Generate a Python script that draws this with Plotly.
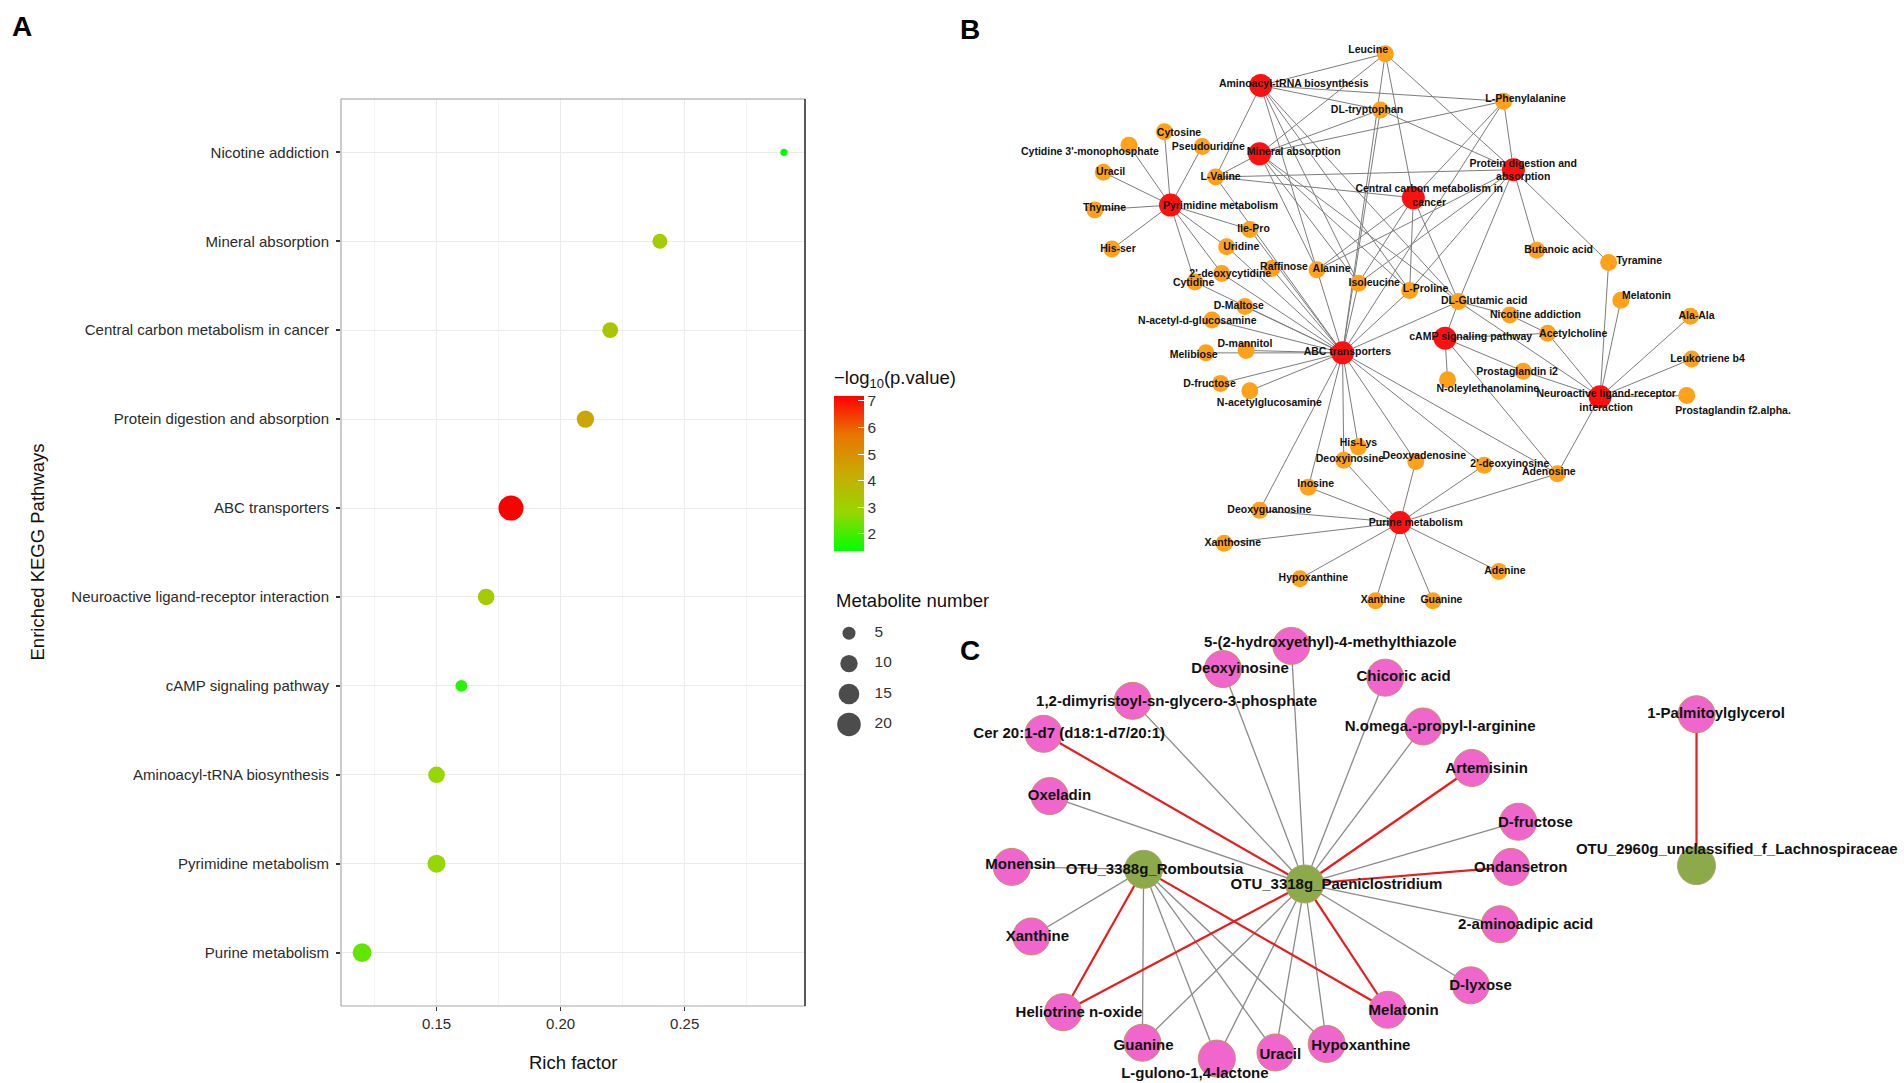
import numpy as np
import plotly.graph_objects as go

FIG_W, FIG_H = 1904, 1083
REF_W, REF_H = 1560.0, 887.0          # design grid used for the network layouts
FONT = "Liberation Sans"


def px(v):
    return v / REF_W


def py(v):
    return 1 - v / REF_H


# ---------------------------------------------------------------- Panel A data
pathways = ["Nicotine addiction", "Mineral absorption", "Central carbon metabolism in cancer",
            "Protein digestion and absorption", "ABC transporters",
            "Neuroactive ligand-receptor interaction", "cAMP signaling pathway",
            "Aminoacyl-tRNA biosynthesis", "Pyrimidine metabolism", "Purine metabolism"]
rich_factor = [0.29, 0.24, 0.22, 0.21, 0.18, 0.17, 0.16, 0.15, 0.15, 0.12]
neg_log10_p = [1.36, 3.15, 3.4, 4.4, 7.19, 3.2, 1.7, 2.8, 2.8, 2.3]
metabolite_number = [1, 7, 8, 10, 23, 9, 4, 9, 11, 12]
rich_ticks = [0.15, 0.20, 0.25]
rich_tick_text = ["0.15", "0.20", "0.25"]
p_ticks = [2, 3, 4, 5, 6, 7]
size_breaks = [5, 10, 15, 20]

# ---------------------------------------------------------------- Panel B data
b_pathways = ["Aminoacyl-tRNA biosynthesis", "Mineral absorption", "Protein digestion and absorption",
              "Central carbon metabolism in cancer", "Pyrimidine metabolism", "ABC transporters",
              "cAMP signaling pathway", "Neuroactive ligand-receptor interaction", "Purine metabolism"]
b_links = {
    "Aminoacyl-tRNA biosynthesis": ["Leucine", "L-Phenylalanine", "DL-tryptophan", "L-Valine", "Alanine",
                                    "Isoleucine", "L-Proline", "DL-Glutamic acid"],
    "Mineral absorption": ["Leucine", "L-Phenylalanine", "DL-tryptophan", "L-Valine", "Alanine",
                           "Isoleucine", "L-Proline", "DL-Glutamic acid"],
    "Protein digestion and absorption": ["Leucine", "L-Phenylalanine", "DL-tryptophan", "L-Valine", "Alanine",
                                         "Isoleucine", "L-Proline", "DL-Glutamic acid", "Butanoic acid",
                                         "Tyramine"],
    "Central carbon metabolism in cancer": ["Leucine", "L-Phenylalanine", "L-Valine", "Alanine",
                                            "Isoleucine", "L-Proline", "DL-Glutamic acid"],
    "Pyrimidine metabolism": ["Cytosine", "Cytidine 3'-monophosphate", "Uracil", "Thymine", "His-ser",
                              "Pseudouridine", "Uridine", "2'-deoxycytidine", "Cytidine", "Ile-Pro"],
    "ABC transporters": ["Leucine", "L-Phenylalanine", "DL-tryptophan", "L-Valine", "Ile-Pro", "Raffinose",
                         "Alanine", "Isoleucine", "L-Proline", "DL-Glutamic acid", "D-Maltose",
                         "N-acetyl-d-glucosamine", "D-mannitol", "Melibiose", "D-fructose",
                         "N-acetylglucosamine", "Uridine", "Cytidine", "2'-deoxycytidine", "His-Lys",
                         "Deoxyinosine", "Deoxyadenosine", "Inosine", "Deoxyguanosine", "2'-deoxyinosine",
                         "Adenosine"],
    "cAMP signaling pathway": ["DL-Glutamic acid", "Acetylcholine", "N-oleylethanolamine",
                               "Prostaglandin i2", "Adenosine"],
    "Neuroactive ligand-receptor interaction": ["Tyramine", "Melatonin", "Ala-Ala", "Leukotriene b4",
                                                "Prostaglandin f2.alpha.", "Acetylcholine",
                                                "Prostaglandin i2", "DL-Glutamic acid", "Adenosine"],
    "Purine metabolism": ["Adenosine", "Adenine", "Guanine", "Xanthine", "Hypoxanthine", "Xanthosine",
                          "Inosine", "Deoxyguanosine", "Deoxyinosine", "Deoxyadenosine", "2'-deoxyinosine"],
    "Nicotine addiction": ["DL-Glutamic acid", "Acetylcholine"],
}
b_label_text = {
    "Protein digestion and absorption": "Protein digestion and<br>absorption",
    "Central carbon metabolism in cancer": "Central carbon metabolism in<br>cancer",
    "Neuroactive ligand-receptor interaction": "Neuroactive ligand-receptor<br>interaction",
}
# node layout (node x, node y, label x, label y) in design units
b_layout = {
    "Aminoacyl-tRNA biosynthesis": (1033, 70, 1060, 69),
    "Mineral absorption": (1032, 126, 1060, 125),
    "Protein digestion and absorption": (1240, 139, 1248, 140),
    "Central carbon metabolism in cancer": (1158, 162, 1171, 161),
    "Pyrimidine metabolism": (959, 168, 1000, 169),
    "ABC transporters": (1100, 289, 1104, 289),
    "cAMP signaling pathway": (1184, 277, 1205, 276),
    "Neuroactive ligand-receptor interaction": (1311, 325, 1316, 329),
    "Purine metabolism": (1147, 428, 1160, 429),
    "Leucine": (1135, 44, 1121, 41),
    "L-Phenylalanine": (1232, 83, 1250, 81),
    "DL-tryptophan": (1131, 90, 1120, 90),
    "Cytosine": (954, 108, 966, 109),
    "Pseudouridine": (985, 120, 990, 121),
    "Cytidine 3'-monophosphate": (925, 119, 893, 125),
    "Uracil": (904, 141, 910, 141),
    "L-Valine": (996, 145, 1000, 145),
    "Thymine": (897, 172, 905, 171),
    "His-ser": (911, 204, 916, 204),
    "Ile-Pro": (1024, 188, 1027, 188),
    "Uridine": (1005, 202, 1017, 203),
    "2'-deoxycytidine": (1001, 224, 1008, 225),
    "Cytidine": (979, 231, 978, 232),
    "Raffinose": (1042, 220, 1052, 219),
    "Alanine": (1079, 221, 1091, 221),
    "Isoleucine": (1113, 232, 1126, 232),
    "L-Proline": (1155, 238, 1168, 237),
    "DL-Glutamic acid": (1195, 247, 1216, 247),
    "Nicotine addiction": (1237, 258, 1258, 258),
    "D-Maltose": (1020, 251, 1015, 251),
    "N-acetyl-d-glucosamine": (993, 262, 981, 263),
    "D-mannitol": (1021, 287, 1020, 282),
    "Melibiose": (988, 289, 978, 291),
    "Butanoic acid": (1259, 205, 1277, 205),
    "Tyramine": (1318, 215, 1343, 214),
    "Melatonin": (1328, 246, 1349, 243),
    "Ala-Ala": (1385, 259, 1390, 259),
    "Acetylcholine": (1268, 273, 1289, 274),
    "Leukotriene b4": (1386, 294, 1399, 294),
    "Prostaglandin f2.alpha.": (1382, 324, 1420, 337),
    "Prostaglandin i2": (1248, 304, 1243, 305),
    "N-oleylethanolamine": (1186, 311, 1219, 319),
    "D-fructose": (1000, 314, 991, 315),
    "N-acetylglucosamine": (1024, 320, 1040, 330),
    "His-Lys": (1113, 366, 1113, 363),
    "Deoxyinosine": (1101, 377, 1106, 376),
    "Deoxyadenosine": (1160, 378, 1167, 374),
    "2'-deoxyinosine": (1216, 381, 1237, 380),
    "Adenosine": (1276, 388, 1269, 387),
    "Inosine": (1072, 399, 1078, 397),
    "Deoxyguanosine": (1032, 418, 1040, 418),
    "Xanthosine": (1003, 445, 1010, 445),
    "Hypoxanthine": (1065, 474, 1076, 474),
    "Xanthine": (1127, 492, 1133, 492),
    "Guanine": (1174, 492, 1181, 492),
    "Adenine": (1228, 468, 1233, 468),
}

# ---------------------------------------------------------------- Panel C data
c_otus = ["OTU_3388g_Romboutsia", "OTU_3318g_Paeniclostridium", "OTU_2960g_unclassified_f_Lachnospiraceae"]
c_positive = [  # red links
    ("OTU_3318g_Paeniclostridium", "Cer 20:1-d7 (d18:1-d7/20:1)"),
    ("OTU_3318g_Paeniclostridium", "Artemisinin"),
    ("OTU_3318g_Paeniclostridium", "Ondansetron"),
    ("OTU_3318g_Paeniclostridium", "Melatonin"),
    ("OTU_3318g_Paeniclostridium", "Heliotrine n-oxide"),
    ("OTU_3388g_Romboutsia", "Heliotrine n-oxide"),
    ("OTU_3388g_Romboutsia", "Melatonin"),
    ("OTU_2960g_unclassified_f_Lachnospiraceae", "1-Palmitoylglycerol"),
]
c_negative = [  # grey links
    ("OTU_3318g_Paeniclostridium", "5-(2-hydroxyethyl)-4-methylthiazole"),
    ("OTU_3318g_Paeniclostridium", "Deoxyinosine"),
    ("OTU_3318g_Paeniclostridium", "Chicoric acid"),
    ("OTU_3318g_Paeniclostridium", "N.omega.-propyl-l-arginine"),
    ("OTU_3318g_Paeniclostridium", "D-fructose"),
    ("OTU_3318g_Paeniclostridium", "2-aminoadipic acid"),
    ("OTU_3318g_Paeniclostridium", "D-lyxose"),
    ("OTU_3318g_Paeniclostridium", "Hypoxanthine"),
    ("OTU_3318g_Paeniclostridium", "Uracil"),
    ("OTU_3318g_Paeniclostridium", "L-gulono-1,4-lactone"),
    ("OTU_3318g_Paeniclostridium", "Guanine"),
    ("OTU_3318g_Paeniclostridium", "Oxeladin"),
    ("OTU_3318g_Paeniclostridium", "1,2-dimyristoyl-sn-glycero-3-phosphate"),
    ("OTU_3388g_Romboutsia", "Monensin"),
    ("OTU_3388g_Romboutsia", "Xanthine"),
    ("OTU_3388g_Romboutsia", "Guanine"),
    ("OTU_3388g_Romboutsia", "L-gulono-1,4-lactone"),
    ("OTU_3388g_Romboutsia", "Uracil"),
    ("OTU_3388g_Romboutsia", "Hypoxanthine"),
]
c_layout = {
    "5-(2-hydroxyethyl)-4-methylthiazole": (1058, 529, 1090, 527),
    "Deoxyinosine": (1002, 548, 1016, 548),
    "Chicoric acid": (1135, 555, 1150, 555),
    "1,2-dimyristoyl-sn-glycero-3-phosphate": (928, 574, 964, 575),
    "N.omega.-propyl-l-arginine": (1166, 595, 1180, 596),
    "Cer 20:1-d7 (d18:1-d7/20:1)": (855, 601, 876, 601),
    "Artemisinin": (1206, 629, 1218, 630),
    "Oxeladin": (860, 652, 868, 652),
    "D-fructose": (1244, 673, 1258, 674),
    "Monensin": (829, 710, 836, 709),
    "Ondansetron": (1238, 710, 1246, 711),
    "OTU_3388g_Romboutsia": (937, 712, 946, 713),
    "OTU_3318g_Paeniclostridium": (1069, 724, 1095, 725),
    "OTU_2960g_unclassified_f_Lachnospiraceae": (1390, 709, 1423, 696),
    "1-Palmitoylglycerol": (1390, 585, 1406, 585),
    "Xanthine": (845, 767, 850, 768),
    "2-aminoadipic acid": (1229, 757, 1250, 758),
    "D-lyxose": (1205, 807, 1213, 808),
    "Heliotrine n-oxide": (871, 829, 884, 830),
    "Melatonin": (1137, 827, 1150, 828),
    "Hypoxanthine": (1087, 855, 1115, 857),
    "Guanine": (936, 854, 937, 857),
    "Uracil": (1045, 862, 1049, 864),
    "L-gulono-1,4-lactone": (997, 867, 979, 880),
}

# ---------------------------------------------------------------- styles
colorscale = [[0.0, "#00FF00"], [0.25, "#98D700"], [0.5, "#C8AB00"], [0.75, "#E87600"], [1.0, "#FF0000"]]


def dot_size(n):
    return 4.7 * np.sqrt(np.asarray(n, dtype=float)) + 2.5


fig = go.Figure()

# ---------------------------------------------------------------- Panel A
cb_top, cb_bottom = 367.0, 550.7       # colourbar block (title + bar), figure pixels
fig.add_trace(go.Scatter(
    x=rich_factor, y=pathways, mode="markers", xaxis="x", yaxis="y",
    marker=dict(size=dot_size(metabolite_number), color=neg_log10_p, colorscale=colorscale,
                cmin=min(neg_log10_p), cmax=max(neg_log10_p), line=dict(width=0), opacity=1,
                showscale=True,
                colorbar=dict(x=834 / FIG_W, xanchor="left", y=1 - cb_top / FIG_H, yanchor="top",
                              len=(cb_bottom - cb_top) / FIG_H, lenmode="fraction", thickness=30,
                              thicknessmode="pixels", outlinewidth=0, xpad=0, ypad=0, tickvals=p_ticks,
                              ticktext=[str(t) for t in p_ticks], ticks="inside", ticklen=6,
                              tickcolor="white", tickwidth=1.2,
                              tickfont=dict(family=FONT, size=15.5, color="#333333"),
                              title=dict(text="\u2212log<sub>10</sub>(p.value)", side="top",
                                         font=dict(family=FONT, size=18.5, color="#111111")))),
    showlegend=False, hoverinfo="skip"))

span = max(rich_factor) - min(rich_factor)
x_range = [min(rich_factor) - 0.05 * span, max(rich_factor) + 0.05 * span]
step = rich_ticks[1] - rich_ticks[0]
minor_vals = [rich_ticks[0] - step / 2] + [t + step / 2 for t in rich_ticks]

ax_l, ax_r, ax_t, ax_b = 341 / FIG_W, 805 / FIG_W, 1 - 99 / FIG_H, 1 - 1006 / FIG_H


# ---------------------------------------------------------------- network helpers
def edge_xy(pairs, layout):
    xs, ys = [], []
    for a, b in pairs:
        xs += [layout[a][0], layout[b][0], None]
        ys += [layout[a][1], layout[b][1], None]
    return xs, ys


# ---------------------------------------------------------------- Panel B
b_pairs = [(p, m) for p, ms in b_links.items() for m in ms]
ex, ey = edge_xy(b_pairs, b_layout)
fig.add_trace(go.Scatter(x=ex, y=ey, mode="lines", xaxis="x2", yaxis="y2",
                         line=dict(color="#7C7C7C", width=1), showlegend=False, hoverinfo="skip"))
b_mets = [n for n in b_layout if n not in b_pathways]
fig.add_trace(go.Scatter(x=[b_layout[n][0] for n in b_mets], y=[b_layout[n][1] for n in b_mets],
                         mode="markers", xaxis="x2", yaxis="y2",
                         marker=dict(size=17, color="#FFA21A", line=dict(width=0)),
                         showlegend=False, hoverinfo="skip"))
fig.add_trace(go.Scatter(x=[b_layout[n][0] for n in b_pathways], y=[b_layout[n][1] for n in b_pathways],
                         mode="markers", xaxis="x2", yaxis="y2",
                         marker=dict(size=23, color="#FF1010", line=dict(width=0)),
                         showlegend=False, hoverinfo="skip"))
fig.add_trace(go.Scatter(x=[b_layout[n][2] for n in b_layout], y=[b_layout[n][3] for n in b_layout],
                         text=[b_label_text.get(n, n) for n in b_layout], mode="text",
                         xaxis="x2", yaxis="y2", textposition="middle center",
                         textfont=dict(family=FONT, size=10.5, color="#111111", weight="bold"),
                         showlegend=False, hoverinfo="skip"))

# ---------------------------------------------------------------- Panel C
gx, gy = edge_xy(c_negative, c_layout)
fig.add_trace(go.Scatter(x=gx, y=gy, mode="lines", xaxis="x2", yaxis="y2",
                         line=dict(color="#8A8A8A", width=1.3), showlegend=False, hoverinfo="skip"))
rx, ry = edge_xy(c_positive, c_layout)
fig.add_trace(go.Scatter(x=rx, y=ry, mode="lines", xaxis="x2", yaxis="y2",
                         line=dict(color="#E81C1C", width=2.2), showlegend=False, hoverinfo="skip"))
c_mets = [n for n in c_layout if n not in c_otus]
fig.add_trace(go.Scatter(x=[c_layout[n][0] for n in c_mets], y=[c_layout[n][1] for n in c_mets],
                         mode="markers", xaxis="x2", yaxis="y2",
                         marker=dict(size=37, color="#F066CC", line=dict(width=1, color="#C99060")),
                         showlegend=False, hoverinfo="skip"))
fig.add_trace(go.Scatter(x=[c_layout[n][0] for n in c_otus], y=[c_layout[n][1] for n in c_otus],
                         mode="markers", xaxis="x2", yaxis="y2",
                         marker=dict(size=38, color="#8DAA4B", line=dict(width=1, color="#B0A070")),
                         showlegend=False, hoverinfo="skip"))
fig.add_trace(go.Scatter(x=[c_layout[n][2] for n in c_layout], y=[c_layout[n][3] for n in c_layout],
                         text=list(c_layout.keys()), mode="text", xaxis="x2", yaxis="y2",
                         textposition="middle center",
                         textfont=dict(family=FONT, size=15, color="#111111", weight="bold"),
                         showlegend=False, hoverinfo="skip"))

# ---------------------------------------------------------------- size legend (panel A)
leg_x, leg_y0, leg_dy = 695.6, 518.6, 24.9
leg_ys = [leg_y0 + i * leg_dy for i in range(len(size_breaks))]
fig.add_trace(go.Scatter(x=[leg_x] * len(size_breaks), y=leg_ys, mode="markers", xaxis="x2", yaxis="y2",
                         marker=dict(size=dot_size(size_breaks), color="black", line=dict(width=0)),
                         showlegend=False, hoverinfo="skip"))
fig.add_trace(go.Scatter(x=[leg_x + 21] * len(size_breaks), y=leg_ys, text=[str(s) for s in size_breaks],
                         mode="text", textposition="middle right", xaxis="x2", yaxis="y2",
                         textfont=dict(family=FONT, size=15.5, color="#333333"),
                         showlegend=False, hoverinfo="skip"))

# ---------------------------------------------------------------- layout
axis_font = dict(family=FONT, size=15, color="#2B2B2B")
fig.update_layout(
    width=FIG_W, height=FIG_H, margin=dict(l=0, r=0, t=0, b=0),
    paper_bgcolor="white", plot_bgcolor="rgba(0,0,0,0)",
    xaxis=dict(domain=[ax_l, ax_r], range=x_range, tickmode="array", tickvals=rich_ticks,
               ticktext=rich_tick_text, showgrid=True, gridcolor="#EBEBEB", gridwidth=1.4,
               minor=dict(tickmode="array", tickvals=minor_vals, showgrid=True, gridcolor="#F4F4F4",
                          gridwidth=0.8, ticks=""),
               zeroline=False, showline=False, ticks="outside", ticklen=4, tickwidth=1.3,
               tickcolor="#333333", tickfont=axis_font, anchor="y", fixedrange=True),
    yaxis=dict(domain=[ax_b, ax_t], type="category", categoryorder="array", categoryarray=pathways[::-1],
               range=[-0.6, len(pathways) - 0.4], showgrid=True, gridcolor="#EBEBEB", gridwidth=1.4,
               zeroline=False, showline=False, ticks="outside", ticklen=4, tickwidth=1.5,
               tickcolor="#333333", tickfont=axis_font, ticklabelstandoff=4, anchor="x", fixedrange=True),
    xaxis2=dict(domain=[0, 1], range=[0, REF_W], visible=False, anchor="y2", fixedrange=True),
    yaxis2=dict(domain=[0, 1], range=[REF_H, 0], visible=False, anchor="x2", fixedrange=True),
    shapes=[
        dict(type="line", xref="paper", yref="paper", x0=ax_l, x1=ax_l, y0=ax_b, y1=ax_t,
             line=dict(color="#A8A8A8", width=1.2)),
        dict(type="line", xref="paper", yref="paper", x0=ax_l, x1=ax_r, y0=ax_b, y1=ax_b,
             line=dict(color="#A8A8A8", width=1.2)),
        dict(type="line", xref="paper", yref="paper", x0=ax_l, x1=ax_r, y0=ax_t, y1=ax_t,
             line=dict(color="#9A9A9A", width=1.2)),
        dict(type="line", xref="paper", yref="paper", x0=ax_r, x1=ax_r, y0=ax_b, y1=ax_t,
             line=dict(color="#222222", width=1.5)),
    ],
    annotations=[
        dict(text="<b>A</b>", x=21.7 / FIG_W, y=1 - 26.7 / FIG_H, xref="paper", yref="paper",
             xanchor="center", yanchor="middle",
             showarrow=False, font=dict(family=FONT, size=28, color="black")),
        dict(text="<b>B</b>", x=970 / FIG_W, y=1 - 30 / FIG_H, xref="paper", yref="paper",
             xanchor="center", yanchor="middle",
             showarrow=False, font=dict(family=FONT, size=28, color="black")),
        dict(text="<b>C</b>", x=970 / FIG_W, y=1 - 650 / FIG_H, xref="paper", yref="paper",
             xanchor="center", yanchor="middle",
             showarrow=False, font=dict(family=FONT, size=28, color="black")),
        dict(text="Enriched KEGG Pathways", x=37 / FIG_W, y=(ax_b + ax_t) / 2, xref="paper", yref="paper",
             xanchor="center", yanchor="middle",
             textangle=-90, showarrow=False, font=dict(family=FONT, size=18.5, color="#111111")),
        dict(text="Rich factor", x=(ax_l + ax_r) / 2, y=1 - 1062 / FIG_H, xref="paper", yref="paper",
             xanchor="center", yanchor="middle",
             showarrow=False, font=dict(family=FONT, size=18.5, color="#111111")),
        dict(text="Metabolite number", x=px(683), y=py(491.6), xref="paper", yref="paper",
             xanchor="left", yanchor="middle", showarrow=False,
             font=dict(family=FONT, size=18.5, color="#111111")),
    ],
)

fig.write_html("out.html", config={"displayModeBar": False},
               post_script="document.body.style.margin='0';document.body.style.overflow='hidden';")
